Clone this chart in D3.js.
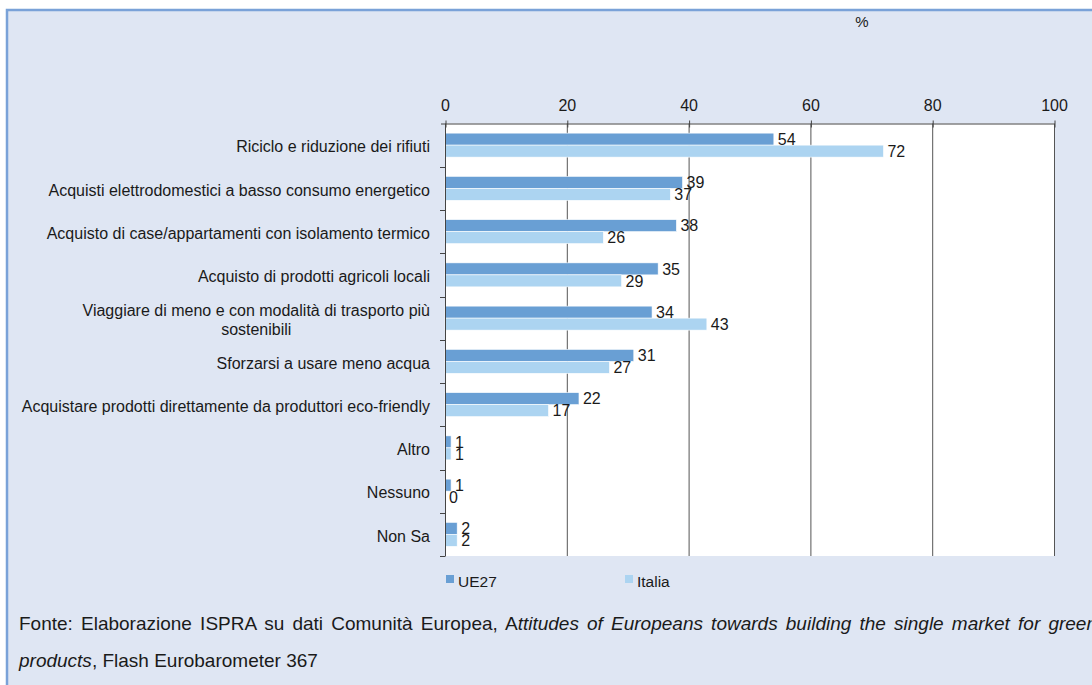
<!DOCTYPE html>
<html>
<head>
<meta charset="utf-8">
<script src="https://cdn.jsdelivr.net/npm/d3@7"></script>
<style>
  html, body { margin: 0; padding: 0; background: #ffffff; }
  svg { display: block; }
  text { font-family: Arial, "Liberation Sans", sans-serif; fill: #1a1a1a; }
</style>
</head>
<body>
<svg id="chart" width="1092" height="685"></svg>
<script>
// Azioni per la sostenibilità: UE27 vs Italia (%)
const categories = [
  "Riciclo e riduzione dei rifiuti",
  "Acquisti elettrodomestici a basso consumo energetico",
  "Acquisto di case/appartamenti con isolamento termico",
  "Acquisto di prodotti agricoli locali",
  "Viaggiare di meno e con modalità di trasporto più\nsostenibili",
  "Sforzarsi a usare meno acqua",
  "Acquistare prodotti direttamente da produttori eco-friendly",
  "Altro",
  "Nessuno",
  "Non Sa"
];
const seriesNames = ["UE27", "Italia"];
const ue27 = [54, 39, 38, 35, 34, 31, 22, 1, 1, 2];
const italia = [72, 37, 26, 29, 43, 27, 17, 1, 0, 2];
const xTicks = [0, 20, 40, 60, 80, 100];
const unitLabel = "%";

const colors = { "UE27": "#699fd4", "Italia": "#acd4f1" };

const svg = d3.select("#chart");
const W = 1092, H = 685;

// panel background with blue frame
svg.append("rect").attr("x", 0).attr("y", 0).attr("width", W).attr("height", H).attr("fill", "#ffffff");
svg.append("rect")
  .attr("x", 7).attr("y", 10).attr("width", W + 20).attr("height", H + 20)
  .attr("fill", "#dfe6f3").attr("stroke", "#7aa2d8").attr("stroke-width", 2.5);

const plot = { left: 445, right: 1054, top: 123.5, bottom: 556 };

const x = d3.scaleLinear().domain([0, 100]).range([plot.left, plot.right]);
const y = d3.scaleBand().domain(categories).range([plot.top, plot.bottom]).padding(0);
const step = y.step();
const barH = 12;
const inner = d3.scaleBand().domain(seriesNames)
  .range([(step - 2 * barH) / 2, (step + 2 * barH) / 2]).padding(0);

// plot area
svg.append("rect")
  .attr("x", plot.left).attr("y", plot.top)
  .attr("width", plot.right - plot.left).attr("height", plot.bottom - plot.top)
  .attr("fill", "#ffffff");

// vertical gridlines
svg.append("g").selectAll("line")
  .data(xTicks.filter(d => d > 0))
  .join("line")
  .attr("x1", d => x(d) + 0.5).attr("x2", d => x(d) + 0.5)
  .attr("y1", plot.top).attr("y2", plot.bottom)
  .attr("stroke", "#555555").attr("stroke-width", 1);

// bars
const rows = categories.map((c, i) => ({ cat: c, vals: [
  { s: "UE27", v: ue27[i] }, { s: "Italia", v: italia[i] }
]}));

const groups = svg.append("g").selectAll("g")
  .data(rows).join("g")
  .attr("transform", d => `translate(0,${y(d.cat)})`);

groups.selectAll("rect")
  .data(d => d.vals).join("rect")
  .attr("x", x(0))
  .attr("y", d => inner(d.s))
  .attr("width", d => x(d.v) - x(0))
  .attr("height", inner.bandwidth())
  .attr("fill", d => colors[d.s])
  .attr("stroke", "#ffffff").attr("stroke-width", 0.6);

groups.selectAll("text.val")
  .data(d => d.vals).join("text")
  .attr("class", "val")
  .attr("x", d => x(d.v) + 4)
  .attr("y", d => inner(d.s) + inner.bandwidth() / 2)
  .attr("dy", "0.36em")
  .attr("font-size", 16)
  .text(d => d.v);

// top axis
const axisG = svg.append("g")
  .attr("transform", `translate(0,${plot.top})`)
  .call(d3.axisTop(x).tickValues(xTicks).tickSizeInner(3).tickSizeOuter(0).tickPadding(10));
axisG.select(".domain").attr("stroke", "#444").attr("d", `M${plot.left - 4},0.5H${plot.right + 0.5}`);
axisG.selectAll(".tick line").attr("stroke", "#444").attr("y2", 4).attr("y1", -3)
  .attr("transform", "translate(0.5,0)");
axisG.selectAll(".tick text")
  .attr("font-family", "Arial, 'Liberation Sans', sans-serif")
  .attr("font-size", 16).attr("fill", "#1a1a1a");

// left axis line with ticks at category boundaries
const yAxisG = svg.append("g");
yAxisG.append("line")
  .attr("x1", plot.left + 0.5).attr("x2", plot.left + 0.5)
  .attr("y1", plot.top).attr("y2", plot.bottom)
  .attr("stroke", "#444");
const bounds = categories.map(c => y(c)).concat([plot.bottom]);
yAxisG.selectAll("line.tk").data(bounds.slice(1)).join("line")
  .attr("class", "tk")
  .attr("x1", plot.left - 5).attr("x2", plot.left + 0.5)
  .attr("y1", d => Math.round(d) + 0.5).attr("y2", d => Math.round(d) + 0.5)
  .attr("stroke", "#444");

// category labels
const labelRight = 430;
categories.forEach(c => {
  const lines = c.split("\n");
  const cy = y(c) + step / 2 + 1.5;
  const t = svg.append("text").attr("font-size", 16);
  if (lines.length === 1) {
    t.attr("x", labelRight).attr("y", cy).attr("dy", "0.36em")
      .attr("text-anchor", "end").text(c);
  } else {
    const lh = 19;
    const spans = lines.map((l, i) => t.append("tspan")
      .attr("y", cy + (i - (lines.length - 1) / 2) * lh)
      .attr("dy", "0.36em").text(l));
    const widths = spans.map(s => s.node().getComputedTextLength());
    const maxW = d3.max(widths);
    t.attr("text-anchor", "middle");
    spans.forEach(s => s.attr("x", labelRight - maxW / 2));
  }
});

// unit label
svg.append("text").attr("x", 862).attr("y", 27).attr("text-anchor", "middle")
  .attr("font-size", 15).text(unitLabel);

// legend
const legend = svg.append("g").attr("transform", "translate(446,575)");
const legendX = { "UE27": 0, "Italia": 179 };
seriesNames.forEach(s => {
  const g = legend.append("g").attr("transform", `translate(${legendX[s]},0)`);
  g.append("rect").attr("width", 8).attr("height", 8).attr("fill", colors[s]);
  g.append("text").attr("x", 12).attr("y", 11.7).attr("font-size", 15.5).text(s);
});

// source note (first line justified across the panel)
const src1 = svg.append("text").attr("x", 19).attr("y", 630).attr("font-size", 19);
src1.append("tspan").text("Fonte: Elaborazione ISPRA su dati Comunità Europea, A");
src1.append("tspan").attr("font-style", "italic")
  .text("ttitudes of Europeans towards building the single market for green");
const natural = src1.node().getComputedTextLength();
const nSpaces = (src1.text().match(/ /g) || []).length;
const targetW = 1097 - 19;
src1.attr("word-spacing", (targetW - natural) / nSpaces);

const src2 = svg.append("text").attr("x", 19).attr("y", 667).attr("font-size", 19);
src2.append("tspan").attr("font-style", "italic").text("products");
src2.append("tspan").text(", Flash Eurobarometer 367");
</script>
</body>
</html>
